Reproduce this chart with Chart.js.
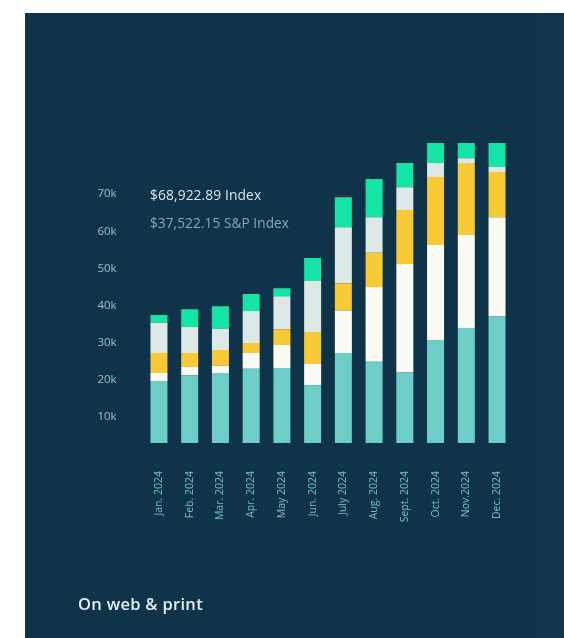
<!DOCTYPE html>
<html>
<head>
<meta charset="utf-8">
<script src="https://cdn.jsdelivr.net/npm/chart.js@4"></script>
<style>
  html, body { margin: 0; padding: 0; background: #ffffff; }
  body { width: 564px; height: 638px; position: relative; overflow: hidden; font-family: "Open Sans", "DejaVu Sans", sans-serif; }
  #panel { position: absolute; left: 25px; top: 13px; width: 539px; height: 625px;
           background: linear-gradient(90deg, #0f344a 0%, #0f344a 95%, #12364d 95%, #12364d 100%); }
  #wrap { position: absolute; left: 0; top: 0; width: 564px; height: 638px; }
  .note { position: absolute; white-space: nowrap; line-height: 1; }
  #n1 { left: 150px; top: 188px; font-size: 13.8px; color: #dbe6ea; letter-spacing: 0.1px; }
  #n2 { left: 150px; top: 215.5px; font-size: 13.6px; color: #86a9b2; letter-spacing: 0.1px; }
  #foot { left: 78px; top: 596px; font-size: 16.5px; font-weight: 600; color: #e6eef2; letter-spacing: 0.3px; }
</style>
</head>
<body>
<div id="panel"></div>
<div id="wrap"><canvas id="c" width="564" height="638"></canvas></div>
<div class="note" id="n1">$68,922.89 Index</div>
<div class="note" id="n2">$37,522.15 S&amp;P Index</div>
<div class="note" id="foot">On web &amp; print</div>
<script>
// values in thousands of dollars, stacked bottom to top
const months = ["Jan. 2024", "Feb. 2024", "Mar. 2024", "Apr. 2024", "May 2024", "Jun. 2024",
                "July 2024", "Aug. 2024", "Sept. 2024", "Oct. 2024", "Nov.2024", "Dec. 2024"];
const tealSeries   = [19.6, 21.2, 21.8, 22.9, 23.1, 18.5, 27.2, 24.8, 21.9, 30.7, 33.9, 37.0];
const whiteSeries  = [2.2, 2.2, 1.9, 4.3, 6.2, 5.7, 11.4, 20.2, 29.3, 25.6, 25.1, 26.8];
const yellowSeries = [5.4, 3.8, 4.3, 2.7, 4.3, 8.6, 7.4, 9.2, 14.5, 18.3, 19.4, 12.2];
const greySeries   = [8.1, 7.0, 5.7, 8.6, 8.9, 13.8, 15.1, 9.6, 6.2, 3.8, 1.3, 1.3];
const greenSeries  = [2.1, 4.8, 6.1, 4.6, 2.1, 6.2, 8.1, 10.3, 6.5, 5.4, 4.1, 6.5];
const yTicks = [10, 20, 30, 40, 50, 60, 70];

const mk = (data, color) => ({
  data, backgroundColor: color, borderWidth: 0,
  barPercentage: 0.553, categoryPercentage: 1.0
});

new Chart(document.getElementById('c'), {
  type: 'bar',
  data: {
    labels: months,
    datasets: [
      mk(tealSeries, '#6dcec8'),
      mk(whiteSeries, '#fbfbf6'),
      mk(yellowSeries, '#f8ca35'),
      mk(greySeries, '#dde9e7'),
      mk(greenSeries, '#14e4a6')
    ]
  },
  options: {
    responsive: false,
    animation: false,
    devicePixelRatio: 1,
    layout: { padding: { left: 0, right: 51.6, top: 143, bottom: 0 } },
    plugins: { legend: { display: false }, tooltip: { enabled: false } },
    scales: {
      x: {
        stacked: true,
        grid: { display: false, drawTicks: false },
        border: { display: false },
        ticks: {
          color: '#79bfc2', font: { family: 'Open Sans', size: 10.5 },
          minRotation: 90, maxRotation: 90, padding: 28, autoSkip: false
        },
        afterFit: s => { s.height = 195; }
      },
      y: {
        stacked: true,
        min: 2.9, max: 83.8,
        grid: { display: false, drawTicks: false },
        border: { display: false },
        afterBuildTicks: s => { s.ticks = yTicks.map(v => ({ value: v })); },
        ticks: {
          color: '#8ec6c9', font: { family: 'Open Sans', size: 11.5 }, padding: 27,
          callback: v => v + 'k'
        },
        afterFit: s => { s.width = 143.6; }
      }
    }
  }
});
</script>
</body>
</html>
